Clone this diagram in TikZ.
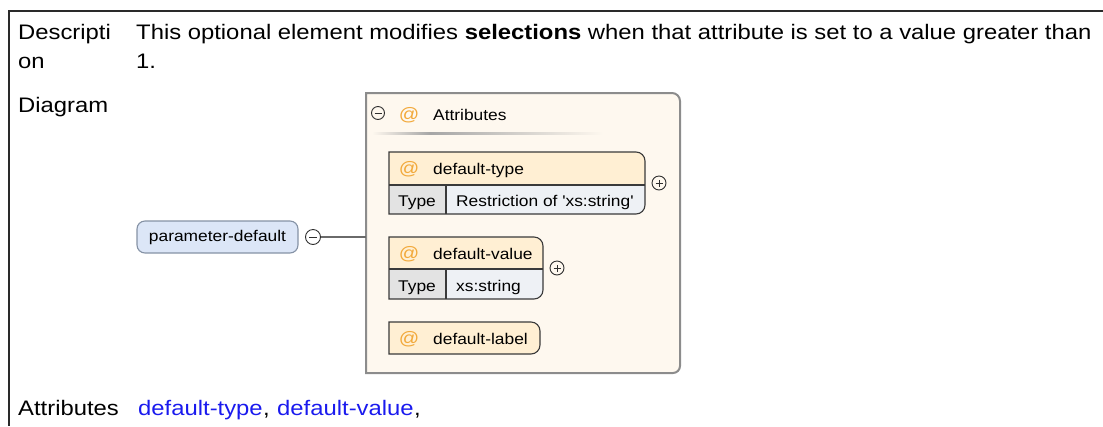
\documentclass[tikz,border=0pt]{standalone}
\usepackage{fontspec}
\setmainfont{Liberation Sans}[FakeStretch=1.135]
\newfontfamily\dfont{Liberation Sans}[FakeStretch=1.12]

\definecolor{framec}{HTML}{2A2A2A}
\definecolor{linkc}{HTML}{1A1AEE}
\definecolor{groupfill}{HTML}{FEF8EF}
\definecolor{groupline}{HTML}{8C8C8C}
\definecolor{hdrfill}{HTML}{FFEFD3}
\definecolor{typefill}{HTML}{E3E3E3}
\definecolor{valfill}{HTML}{EEF1F5}
\definecolor{boxline}{HTML}{3A3A3A}
\definecolor{elemfill}{HTML}{DCE6F7}
\definecolor{elemline}{HTML}{8592A5}
\definecolor{atc}{HTML}{F2A93B}
\definecolor{iconc}{HTML}{2F2F2F}
\definecolor{wirec}{HTML}{6A6A6A}

\begin{document}
\begin{tikzpicture}[x=1bp,y=-1bp,
  frame/.style={draw=framec,line width=2bp},
  rowlabel/.style={anchor=base west,inner sep=0pt,font=\fontsize{21bp}{25bp}\selectfont},
  linktext/.style={rowlabel,text=linkc},
  dtext/.style={anchor=base west,inner sep=0pt,font=\dfont\fontsize{15.5bp}{18bp}\selectfont},
  attext/.style={anchor=base,inner sep=0pt,text=atc,font=\dfont\fontsize{18bp}{20bp}\selectfont},
  attrline/.style={draw=boxline,line width=1.1bp},
  icon/.style={circle,draw=iconc,line width=0.9bp,inner sep=0pt,minimum size=#1},
  icon/.default=13bp,
  iconbar/.style={draw=iconc,line width=0.9bp},
]
\useasboundingbox (0,0) rectangle (1103,426);

% table frame
\draw[frame] (8,11) -- (1103,11);
\draw[frame] (9,10) -- (9,426);

% row labels and description
\node[rowlabel] (lblDesc1) at (18,39) {Descripti};
\node[rowlabel] (lblDesc2) at (18,68) {on};
\node[rowlabel] (descText1) at (136,39) {This optional element modifies \textbf{selections} when that attribute is set to a value greater than};
\node[rowlabel] (descText2) at (136,68) {1.};
\node[rowlabel] (lblDiagram) at (18,112) {Diagram};
\node[rowlabel] (lblAttrs) at (18,415) {Attributes};
\node[linktext] (linkType) at (138,415) {default-type};
\node[rowlabel] (comma1) at (linkType.base east) {,};
\node[linktext] (linkValue) at (277,415) {default-value};
\node[rowlabel] (comma2) at (linkValue.base east) {,};

% attribute group container
\draw[draw=groupline,fill=groupfill,line width=2bp]
  (366,93) -- (672,93) arc(-90:0:8) -- (680,366) arc(0:90:7) -- (366,373) -- cycle;
\node[icon] (grpMinus) at (378,113) {};
\draw[iconbar] ([xshift=-3.5bp]grpMinus.center) -- ([xshift=3.5bp]grpMinus.center);
\node[attext] (grpAt) at (409,120) {@};
\node[dtext] (grpTitle) at (433,120) {Attributes};
\shade[left color=groupfill,right color=gray!70] (372,132) rectangle (430,134);
\shade[left color=gray!70,right color=groupfill] (430,132) rectangle (603,134);

% element node
\node[draw=elemline,fill=elemfill,line width=1.1bp,rounded corners=8bp,
      minimum width=161bp,minimum height=32bp,inner sep=0pt,
      font=\dfont\fontsize{15.5bp}{18bp}\selectfont] (elem) at (217.5,237) {parameter-default};
\node[icon=15bp] (elemMinus) at (313,237) {};
\draw[iconbar] ([xshift=-4bp]elemMinus.center) -- ([xshift=4bp]elemMinus.center);
\coordinate (grpLeft) at (366,237);
\draw[draw=wirec,line width=2bp] (elemMinus.east) -- (grpLeft);

% attribute default-type
\fill[hdrfill] (389,185) -- (389,152) -- (636,152) arc(-90:0:9) -- (645,185) -- cycle;
\fill[typefill] (389,185) rectangle (446,214);
\fill[valfill] (446,185) -- (645,185) -- (645,205) arc(0:90:9) -- (446,214) -- cycle;
\draw[attrline] (389,152) -- (636,152) arc(-90:0:9) -- (645,205) arc(0:90:9) -- (389,214) -- cycle;
\draw[attrline] (389,185) -- (645,185);
\draw[attrline] (446,185) -- (446,214);
\node[attext] (atType) at (409,174) {@};
\node[dtext] (nameType) at (433,174) {default-type};
\node[dtext] (kwType1) at (398,206) {Type};
\node[dtext] (valType1) at (456,206) {Restriction of 'xs:string'};
\node[icon=14bp] (plusType) at (659,183) {};
\draw[iconbar] ([xshift=-3.5bp]plusType.center) -- ([xshift=3.5bp]plusType.center);
\draw[iconbar] ([yshift=-3.5bp]plusType.center) -- ([yshift=3.5bp]plusType.center);

% attribute default-value
\fill[hdrfill] (389,269) -- (389,237) -- (534,237) arc(-90:0:9) -- (543,269) -- cycle;
\fill[typefill] (389,269) rectangle (446,299);
\fill[valfill] (446,269) -- (543,269) -- (543,290) arc(0:90:9) -- (446,299) -- cycle;
\draw[attrline] (389,237) -- (534,237) arc(-90:0:9) -- (543,290) arc(0:90:9) -- (389,299) -- cycle;
\draw[attrline] (389,269) -- (543,269);
\draw[attrline] (446,269) -- (446,299);
\node[attext] (atValue) at (409,259) {@};
\node[dtext] (nameValue) at (433,259) {default-value};
\node[dtext] (kwType2) at (398,291) {Type};
\node[dtext] (valType2) at (456,291) {xs:string};
\node[icon=14bp] (plusValue) at (557,268) {};
\draw[iconbar] ([xshift=-3.5bp]plusValue.center) -- ([xshift=3.5bp]plusValue.center);
\draw[iconbar] ([yshift=-3.5bp]plusValue.center) -- ([yshift=3.5bp]plusValue.center);

% attribute default-label
\draw[attrline,fill=hdrfill] (389,322) -- (531,322) arc(-90:0:9) -- (540,345) arc(0:90:9) -- (389,354) -- cycle;
\node[attext] (atLabel) at (409,344) {@};
\node[dtext] (nameLabel) at (433,344) {default-label};
\end{tikzpicture}
\end{document}
